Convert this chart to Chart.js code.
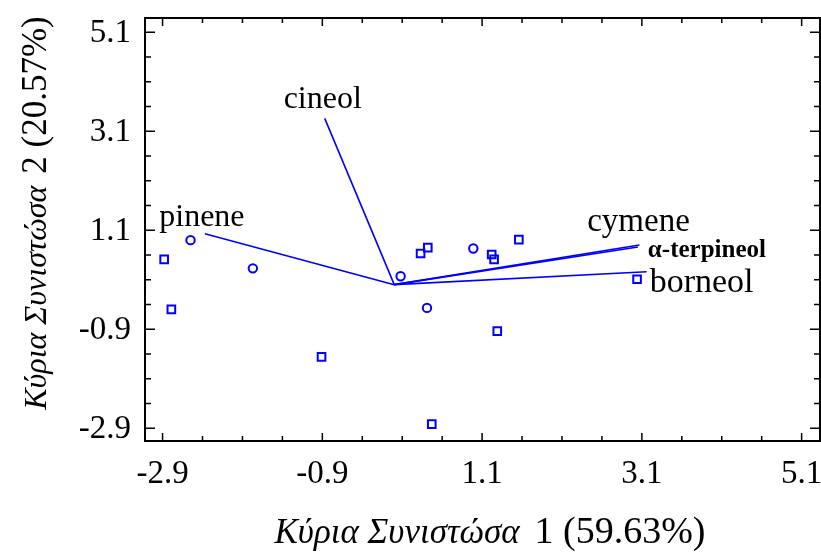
<!DOCTYPE html>
<html>
<head>
<meta charset="utf-8">
<script src="https://cdn.jsdelivr.net/npm/chart.js@4.4.1/dist/chart.umd.min.js"></script>
<style>
  html, body { margin: 0; padding: 0; background: #ffffff; }
  #wrap { width: 821px; height: 553px; }
</style>
</head>
<body>
<div id="wrap"><canvas id="c" width="821" height="553"></canvas></div>
<script>
// Sample scores, first group (circles)
const circleX = [-2.55, -1.77, 0.08, 0.41, 0.99];
const circleY = [0.90, 0.33, 0.17, -0.47, 0.73];
// Sample scores, second group (squares)
const squareX = [-2.88, -2.79, -0.91, 0.33, 0.42, 1.22, 1.25, 1.56, 1.29, 0.47, 3.04];
const squareY = [0.51, -0.50, -1.46, 0.63, 0.75, 0.61, 0.51, 0.91, -0.94, -2.82, 0.11];
// Loadings of the compounds (vectors from the origin)
const compounds = ['cineol', 'pinene', 'cymene', 'α-terpineol', 'borneol'];
const loadX = [-0.87, -2.37, 3.07, 3.05, 3.16];
const loadY = [3.36, 1.03, 0.80, 0.76, 0.26];
// Axis ticks (same for both axes)
const majorTicks = [-2.9, -0.9, 1.1, 3.1, 5.1];
const minorTicks = [-2.4, -1.9, -1.4, -0.4, 0.1, 0.6, 1.6, 2.1, 2.6, 3.6, 4.1, 4.6];
const tickLabels = ['-2.9', '-0.9', '1.1', '3.1', '5.1'];
// Axis titles
const xTitleGreek = 'Κύρια Συνιστώσα';
const xTitleNum = '1 (59.63%)';
const yTitleGreek = 'Κύρια Συνιστώσα';
const yTitleNum = '2 (20.57%)';

const SERIF = "'Liberation Serif', 'Times New Roman', serif";
const BLUE = '#0000ff';

// How each compound label sits relative to the tip of its vector
const labelStyle = {
  'cineol':      { align: 'center', dx: -2, dy: -10, font: '32px ' + SERIF },
  'pinene':      { align: 'center', dx: -3, dy: -8,  font: '32px ' + SERIF },
  'cymene':      { align: 'center', dx: -1, dy: -14, font: '33px ' + SERIF },
  'α-terpineol': { align: 'left',   dx: 10, dy: 10,  font: 'bold 25px ' + SERIF },
  'borneol':     { align: 'left',   dx: 3,  dy: 20,  font: '34px ' + SERIF }
};

const datasets = [
  {
    label: 'circles',
    data: circleX.map((x, i) => ({ x: x, y: circleY[i] })),
    pointStyle: 'circle',
    pointRadius: 4.2,
    borderColor: BLUE,
    backgroundColor: 'rgba(0,0,0,0)',
    pointBorderWidth: 2,
    showLine: false
  },
  {
    label: 'squares',
    data: squareX.map((x, i) => ({ x: x, y: squareY[i] })),
    pointStyle: 'rect',
    pointRadius: 5.4,
    borderColor: BLUE,
    backgroundColor: 'rgba(0,0,0,0)',
    pointBorderWidth: 2,
    showLine: false
  }
];
compounds.forEach((name, i) => {
  datasets.push({
    label: name,
    data: [{ x: 0, y: 0 }, { x: loadX[i], y: loadY[i] }],
    showLine: true,
    borderColor: BLUE,
    borderWidth: 1.6,
    pointRadius: 0,
    fill: false
  });
});

// Frame, inward ticks, tick labels, titles and vector labels
const decorations = {
  id: 'decorations',
  afterDatasetsDraw(chart) {
    const ctx = chart.ctx;
    const a = chart.chartArea;
    const xs = chart.scales.x, ys = chart.scales.y;
    ctx.save();

    // frame
    ctx.strokeStyle = '#000';
    ctx.lineWidth = 2;
    ctx.strokeRect(a.left, a.top, a.right - a.left, a.bottom - a.top);

    // ticks
    ctx.lineWidth = 1.5;
    const drawTicks = (vals, xLen, yLen) => {
      vals.forEach(v => {
        const px = xs.getPixelForValue(v);
        const py = ys.getPixelForValue(v);
        ctx.beginPath();
        ctx.moveTo(px, a.bottom); ctx.lineTo(px, a.bottom - xLen);
        ctx.moveTo(px, a.top);    ctx.lineTo(px, a.top + xLen);
        ctx.moveTo(a.left, py);   ctx.lineTo(a.left + yLen, py);
        ctx.moveTo(a.right, py);  ctx.lineTo(a.right - yLen, py);
        ctx.stroke();
      });
    };
    drawTicks(majorTicks, 8, 10);
    drawTicks(minorTicks, 5, 6);

    // tick labels
    ctx.fillStyle = '#000';
    ctx.font = '33px ' + SERIF;
    ctx.textBaseline = 'middle';
    majorTicks.forEach((v, i) => {
      ctx.textAlign = 'center';
      ctx.fillText(tickLabels[i], xs.getPixelForValue(v), 474);
      ctx.textAlign = 'right';
      ctx.fillText(tickLabels[i], 131, ys.getPixelForValue(v) + 1);
    });

    // axis titles: Greek part in italic, index and share upright
    const drawTitle = (greek, num, gSize, nSize, gap) => {
      const greekFont = 'italic ' + gSize + 'px ' + SERIF;
      const numFont = nSize + 'px ' + SERIF;
      ctx.font = greekFont;
      const w1 = ctx.measureText(greek).width;
      ctx.font = numFont;
      const w2 = ctx.measureText(num).width;
      const start = -(w1 + gap + w2) / 2;
      ctx.textAlign = 'left';
      ctx.textBaseline = 'alphabetic';
      ctx.font = greekFont;
      ctx.fillText(greek, start, 0);
      ctx.font = numFont;
      ctx.fillText(num, start + w1 + gap, 0);
    };
    ctx.save();
    ctx.translate(490, 543);
    drawTitle(xTitleGreek, xTitleNum, 35, 38, 15);
    ctx.restore();
    ctx.save();
    ctx.translate(46, 213);
    ctx.rotate(-Math.PI / 2);
    drawTitle(yTitleGreek, yTitleNum, 32, 35, 12);
    ctx.restore();

    // compound labels at the vector tips
    ctx.textBaseline = 'alphabetic';
    compounds.forEach((name, i) => {
      const s = labelStyle[name];
      ctx.font = s.font;
      ctx.textAlign = s.align;
      ctx.fillText(name, xs.getPixelForValue(loadX[i]) + s.dx, ys.getPixelForValue(loadY[i]) + s.dy);
    });

    ctx.restore();
  }
};

new Chart(document.getElementById('c'), {
  type: 'scatter',
  data: { datasets: datasets },
  options: {
    responsive: false,
    animation: false,
    devicePixelRatio: 1,
    layout: { autoPadding: false, padding: { left: 145, right: 1, top: 18, bottom: 112 } },
    plugins: { legend: { display: false }, tooltip: { enabled: false } },
    scales: {
      x: { type: 'linear', min: -3.12, max: 5.33, display: false },
      y: { type: 'linear', min: -3.16, max: 5.39, display: false }
    }
  },
  plugins: [decorations]
});
</script>
</body>
</html>
